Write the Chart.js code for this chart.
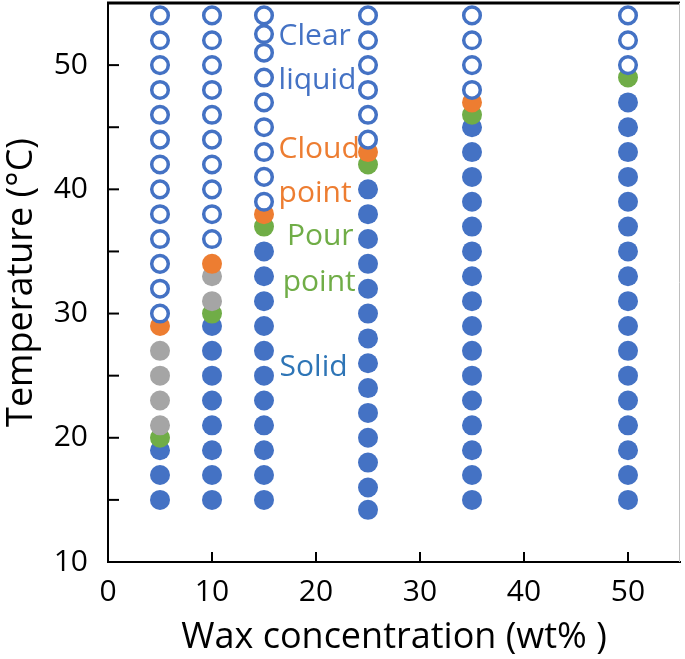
<!DOCTYPE html>
<html>
<head>
<meta charset="utf-8">
<script src="https://cdn.jsdelivr.net/npm/chart.js@4.4.1/dist/chart.umd.min.js"></script>
<style>
html,body{margin:0;padding:0;background:#fff;}
#wrap{width:685px;height:659px;}
</style>
</head>
<body>
<div id="wrap"><canvas id="c" width="685" height="659"></canvas></div>
<script>
// Wax concentration columns (wt%)
const concentrations = [5, 10, 15, 25, 35, 50];
// Temperatures (°C) per column for each state
const clearLiquidT = [
  [54, 52, 50, 48, 46, 44, 42, 40, 38, 36, 34, 32, 30],
  [54, 52, 50, 48, 46, 44, 42, 40, 38, 36],
  [54, 52.5, 51, 49, 47, 45, 43, 41, 39],
  [54, 52, 50, 48, 46, 44],
  [54, 52, 50, 48],
  [54, 52, 50]
];
const cloudPointT = [29, 34, 38, 43, 47, null];
const intermediateT = [
  [27, 25, 23, 21],
  [33, 31],
  [], [], [], []
];
const pourPointT = [20, 30, 37, 42, 46, 49];
const solidT = [
  [19, 17, 15],
  [29, 27, 25, 23, 21, 19, 17, 15],
  [35, 33, 31, 29, 27, 25, 23, 21, 19, 17, 15],
  [40, 38, 36, 34, 32, 30, 28, 26, 24, 22, 20, 18, 16, 14.2],
  [45, 43, 41, 39, 37, 35, 33, 31, 29, 27, 25, 23, 21, 19, 17, 15],
  [47, 45, 43, 41, 39, 37, 35, 33, 31, 29, 27, 25, 23, 21, 19, 17, 15]
];
const xTickValues = [0, 10, 20, 30, 40, 50];
const yTickValues = [10, 15, 20, 25, 30, 35, 40, 45, 50];
const annotations = [
  {text: 'Clear', x: 16.4, y: 52.3, color: '#4472C4'},
  {text: 'liquid', x: 16.4, y: 48.8, color: '#4472C4'},
  {text: 'Cloud', x: 16.4, y: 43.2, color: '#ED7D31'},
  {text: 'point', x: 16.4, y: 39.7, color: '#ED7D31'},
  {text: 'Pour', x: 17.2, y: 36.2, color: '#70AD47'},
  {text: 'point', x: 16.8, y: 32.5, color: '#70AD47'},
  {text: 'Solid', x: 16.5, y: 25.7, color: '#2E75B6'}
];

function toPoints(cols, vals) {
  const out = [];
  cols.forEach((c, i) => {
    const v = vals[i];
    if (Array.isArray(v)) v.forEach(t => out.push({x: c, y: t}));
    else if (v !== null && v !== undefined) out.push({x: c, y: v});
  });
  return out;
}

const FONT = "'Open Sans', 'DejaVu Sans', sans-serif";

const decorPlugin = {
  id: 'decor',
  beforeDatasetsDraw(chart) {
    const ctx = chart.ctx, a = chart.chartArea;
    const xs = chart.scales.x, ys = chart.scales.y;
    ctx.save();
    // top border
    ctx.strokeStyle = '#000';
    ctx.lineWidth = 3;
    ctx.beginPath(); ctx.moveTo(a.left - 1, a.top); ctx.lineTo(a.right, a.top); ctx.stroke();
    // right border
    ctx.strokeStyle = '#bfbfbf';
    ctx.lineWidth = 1;
    ctx.beginPath(); ctx.moveTo(a.right - 0.5, a.top); ctx.lineTo(a.right - 0.5, a.bottom); ctx.stroke();
    // inward ticks
    ctx.strokeStyle = '#000';
    ctx.lineWidth = 2;
    xTickValues.forEach(v => {
      if (v === 0) return;
      const px = xs.getPixelForValue(v);
      ctx.beginPath(); ctx.moveTo(px, a.bottom); ctx.lineTo(px, a.bottom - 10); ctx.stroke();
    });
    yTickValues.forEach(v => {
      if (v === 10) return;
      const py = ys.getPixelForValue(v);
      ctx.beginPath(); ctx.moveTo(a.left, py); ctx.lineTo(a.left + 11, py); ctx.stroke();
    });
    // annotations
    ctx.font = '30px ' + FONT;
    ctx.textAlign = 'left';
    ctx.textBaseline = 'middle';
    annotations.forEach(an => {
      ctx.fillStyle = an.color;
      ctx.fillText(an.text, xs.getPixelForValue(an.x), ys.getPixelForValue(an.y));
    });
    ctx.restore();
  }
};

function noPad(s) { s.paddingTop = 0; s.paddingBottom = 0; s.paddingLeft = 0; s.paddingRight = 0; }

const BLUE = '#4472C4';
new Chart(document.getElementById('c'), {
  type: 'scatter',
  data: {
    datasets: [
      {label: 'Clear liquid', data: toPoints(concentrations, clearLiquidT),
       backgroundColor: '#ffffff', borderColor: BLUE, borderWidth: 3.5, pointRadius: 8.3},
      {label: 'Cloud point', data: toPoints(concentrations, cloudPointT),
       backgroundColor: '#ED7D31', borderColor: '#ED7D31', borderWidth: 0, pointRadius: 10},
      {label: 'Intermediate', data: toPoints(concentrations, intermediateT),
       backgroundColor: '#A5A5A5', borderColor: '#A5A5A5', borderWidth: 0, pointRadius: 10},
      {label: 'Pour point', data: toPoints(concentrations, pourPointT),
       backgroundColor: '#70AD47', borderColor: '#70AD47', borderWidth: 0, pointRadius: 10},
      {label: 'Solid', data: toPoints(concentrations, solidT),
       backgroundColor: BLUE, borderColor: BLUE, borderWidth: 0, pointRadius: 10}
    ]
  },
  options: {
    responsive: false,
    animation: false,
    devicePixelRatio: 1,
    layout: {autoPadding: false, padding: {top: 3, right: 5, left: 0, bottom: 0}},
    plugins: {legend: {display: false}, tooltip: {enabled: false}},
    elements: {point: {pointStyle: 'circle', hoverRadius: 10}},
    scales: {
      x: {
        type: 'linear', min: 0, max: 55,
        afterFit(s) { s.height = 97; noPad(s); },
        grid: {display: false, drawTicks: false},
        border: {display: true, color: '#000', width: 2},
        ticks: {stepSize: 10, includeBounds: false, color: '#000', padding: 12,
                font: {family: FONT, size: 30}},
        title: {display: true, text: 'Wax concentration (wt% )', color: '#000',
                font: {family: FONT, size: 36}, padding: {top: 0, bottom: 0}}
      },
      y: {
        type: 'linear', min: 10, max: 55,
        afterFit(s) { s.width = 108; noPad(s); },
        grid: {display: false, drawTicks: false},
        border: {display: true, color: '#000', width: 2},
        ticks: {stepSize: 5, includeBounds: false, color: '#000', padding: 20,
                font: {family: FONT, size: 30},
                callback: v => (v % 10 === 0 ? String(v) : '')},
        title: {display: true, text: 'Temperature (°C)', color: '#000',
                font: {family: FONT, size: 36}, padding: {top: 0, bottom: 0}}
      }
    }
  },
  plugins: [decorPlugin]
});
</script>
</body>
</html>
